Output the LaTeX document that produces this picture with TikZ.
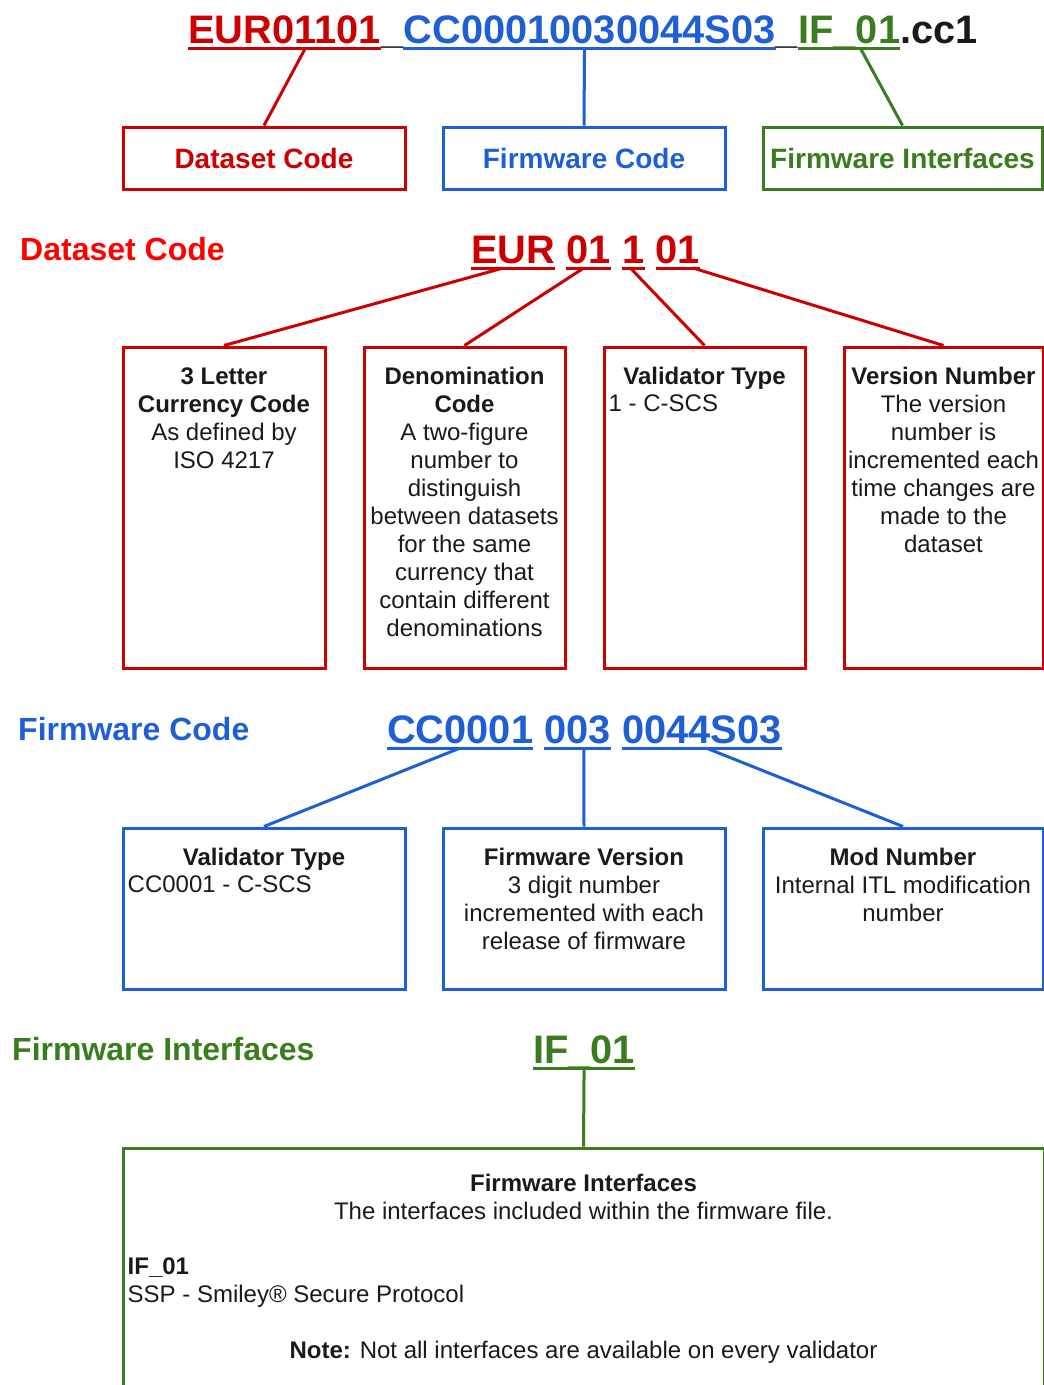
\documentclass[tikz,border=0pt]{standalone}
\usepackage{fontspec}
\setmainfont{Liberation Sans}
\usetikzlibrary{positioning}
\definecolor{dsred}{HTML}{CC0000}
\definecolor{hdred}{HTML}{FF0000}
\definecolor{fwblue}{HTML}{1F5FD6}
\definecolor{ifgreen}{HTML}{3A7D1E}
\definecolor{ink}{HTML}{1A1A1A}
\tikzset{
  idpart/.style={font=\fontsize{39.8}{48}\selectfont\bfseries,text=ink,inner sep=0pt},
  sechead/.style={font=\fontsize{32}{38}\selectfont\bfseries,inner sep=0pt,anchor=base west},
  tagbox/.style={draw=#1,text=#1,line width=3pt,font=\fontsize{28}{33}\selectfont\bfseries,
    inner sep=0pt,minimum height=62pt},
  fieldbox/.style={draw=#1,line width=3pt,inner sep=0pt},
  fieldtxt/.style={font=\fontsize{24}{28}\selectfont,text=ink,align=center,anchor=north,inner sep=0pt},
  fieldleft/.style={font=\fontsize{24}{28}\selectfont,text=ink,anchor=base west,inner sep=0pt},
  conn/.style={line width=3pt},
}

\begin{document}
\begin{tikzpicture}[x=1pt,y=-1pt]
  \useasboundingbox (0,0) rectangle (1044,1385);
  % file name
  \node[idpart,text=dsred,anchor=base west] (n1) at (188,43) {EUR01101};
  \node[idpart,base right=0pt of n1] (n2) {\_};
  \node[idpart,text=fwblue,base right=0pt of n2] (n3) {CC00010030044S03};
  \node[idpart,base right=0pt of n3] (n4) {\_};
  \node[idpart,text=ifgreen,base right=0pt of n4] (n5) {IF\_01};
  \node[idpart,base right=0pt of n5] (n6) {.cc1};
  \foreach \n/\c in {n1/dsred,n3/fwblue,n5/ifgreen}
    \draw[conn,\c] ([yshift=-5pt]\n.base west) -- ([yshift=-5pt]\n.base east);
  \node[tagbox=dsred,minimum width=282pt] (tds) at (264,158) {Dataset Code};
  \node[tagbox=fwblue,minimum width=282pt] (tfw) at (584,158) {Firmware Code};
  \node[tagbox=ifgreen,minimum width=279pt] (tif) at (902.5,158) {Firmware Interfaces};
  \draw[conn,dsred] ([xshift=21pt,yshift=-5pt]n1.base) -- (tds.north);
  \draw[conn,fwblue] ([xshift=-5pt,yshift=-5pt]n3.base) -- (tfw.north);
  \draw[conn,ifgreen] ([xshift=11pt,yshift=-5pt]n5.base) -- (tif.north);

  % dataset code
  \node[sechead,text=hdred] (hds) at (20,260) {Dataset Code};
  \node[idpart,text=dsred,anchor=base west] (d1) at (471,263) {EUR};
  \node[idpart,text=dsred,base right=11pt of d1] (d2) {01};
  \node[idpart,text=dsred,base right=11pt of d2] (d3) {1};
  \node[idpart,text=dsred,base right=11pt of d3] (d4) {01};
  \foreach \n in {d1,d2,d3,d4}
    \draw[conn,dsred] ([yshift=-5pt]\n.base west) -- ([yshift=-5pt]\n.base east);
  \node[fieldbox=dsred,minimum width=202pt,minimum height=321pt] (bcur) at (224,507.5) {};
  \node[fieldbox=dsred,minimum width=201pt,minimum height=321pt] (bden) at (464.5,507.5) {};
  \node[fieldbox=dsred,minimum width=201pt,minimum height=321pt] (bval) at (704.5,507.5) {};
  \node[fieldbox=dsred,minimum width=199pt,minimum height=321pt] (bver) at (943.5,507.5) {};
  \node[fieldtxt,below=19pt of bcur.north] (xcur) {\strut\textbf{3 Letter}\\\textbf{Currency Code}\\As defined by\\ISO 4217};
  \node[fieldtxt,below=19pt of bden.north] (xden) {\strut\textbf{Denomination}\\\textbf{Code}\\A two-figure\\number to\\distinguish\\between datasets\\for the same\\currency that\\contain different\\denominations};
  \node[fieldtxt,below=19pt of bval.north] (xval) {\strut\textbf{Validator Type}};
  \node[fieldleft] (xval2) at ([xshift=6pt,yshift=-66pt]bval.north west) {1 - C-SCS};
  \node[fieldtxt,below=19pt of bver.north] (xver) {\strut\textbf{Version Number}\\The version\\number is\\incremented each\\time changes are\\made to the\\dataset};
  \draw[conn,dsred] ([xshift=-10pt,yshift=-5pt]d1.base) -- (bcur.north);
  \draw[conn,dsred] ([xshift=-5pt,yshift=-5pt]d2.base) -- (bden.north);
  \draw[conn,dsred] ([xshift=-3pt,yshift=-5pt]d3.base) -- (bval.north);
  \draw[conn,dsred] ([xshift=15pt,yshift=-5pt]d4.base) -- (bver.north);

  % firmware code
  \node[sechead,text=fwblue] (hfw) at (18,740) {Firmware Code};
  \node[idpart,text=fwblue,anchor=base west] (f1) at (387,743) {CC0001};
  \node[idpart,text=fwblue,base right=11pt of f1] (f2) {003};
  \node[idpart,text=fwblue,base right=11pt of f2] (f3) {0044S03};
  \foreach \n in {f1,f2,f3}
    \draw[conn,fwblue] ([yshift=-5pt]\n.base west) -- ([yshift=-5pt]\n.base east);
  \node[fieldbox=fwblue,minimum width=282pt,minimum height=161pt] (bvt) at (264,908.5) {};
  \node[fieldbox=fwblue,minimum width=282pt,minimum height=161pt] (bfv) at (584,908.5) {};
  \node[fieldbox=fwblue,minimum width=280pt,minimum height=161pt] (bmod) at (903,908.5) {};
  \node[fieldtxt,below=19pt of bvt.north] (xvt) {\strut\textbf{Validator Type}};
  \node[fieldleft] (xvt2) at ([xshift=6pt,yshift=-66pt]bvt.north west) {CC0001 - C-SCS};
  \node[fieldtxt,below=19pt of bfv.north] (xfv) {\strut\textbf{Firmware Version}\\3 digit number\\incremented with each\\release of firmware};
  \node[fieldtxt,below=19pt of bmod.north] (xmod) {\strut\textbf{Mod Number}\\Internal ITL modification\\number};
  \draw[conn,fwblue] ([yshift=-5pt]f1.base) -- (bvt.north);
  \draw[conn,fwblue] ([xshift=6pt,yshift=-5pt]f2.base) -- (bfv.north);
  \draw[conn,fwblue] ([xshift=4pt,yshift=-5pt]f3.base) -- (bmod.north);

  % firmware interfaces
  \node[sechead,text=ifgreen] (hif) at (12,1060) {Firmware Interfaces};
  \node[idpart,text=ifgreen,anchor=base west] (g1) at (533,1063) {IF\_01};
  \draw[conn,ifgreen] ([yshift=-5pt]g1.base west) -- ([yshift=-5pt]g1.base east);
  \node[fieldbox=ifgreen,minimum width=921pt,minimum height=320pt] (bif) at (583.5,1308) {};
  \draw[conn,ifgreen] ([yshift=-5pt]g1.base) -- (bif.north);
  \node[fieldtxt,below=25pt of bif.north] (xif) {\strut\textbf{Firmware Interfaces}\\The interfaces included within the firmware file.};
  \node[fieldleft] (xif2) at ([xshift=6pt,yshift=-128pt]bif.north west) {\textbf{IF\_01}};
  \node[fieldleft] (xif3) at ([xshift=6pt,yshift=-156pt]bif.north west) {SSP - Smiley® Secure Protocol};
  \node[fieldleft,anchor=base] (xnote) at ([yshift=-212pt]bif.north) {\textbf{Note:} Not all interfaces are available on every validator};
\end{tikzpicture}
\end{document}
